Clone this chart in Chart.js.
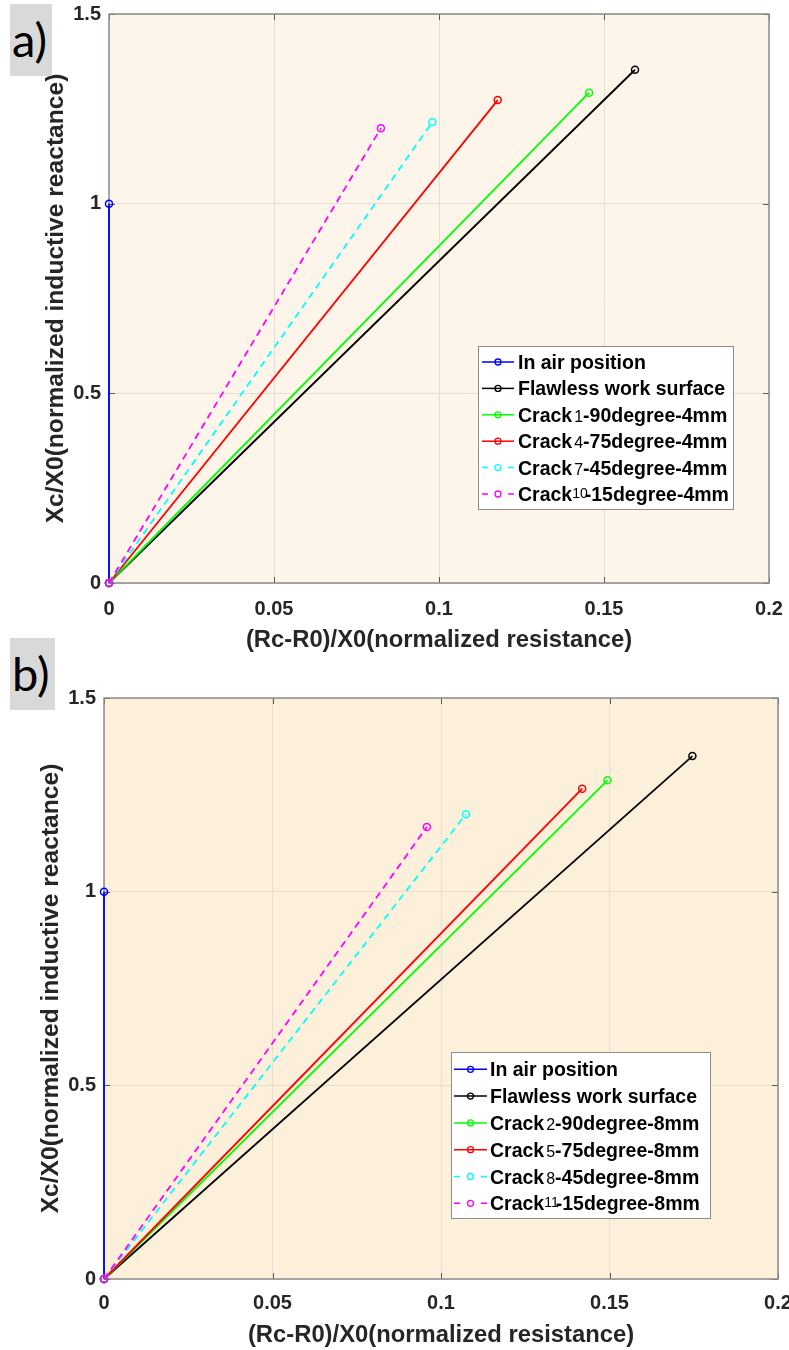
<!DOCTYPE html>
<html>
<head>
<meta charset="utf-8">
<script src="https://cdn.jsdelivr.net/npm/chart.js@4.4.1/dist/chart.umd.min.js"></script>
<style>
  body { margin: 0; width: 789px; height: 1350px; background: #fff; position: relative; overflow: hidden; }
  .panel { position: absolute; left: 0; }
  .tag { position: absolute; background: #d9d9d9; font-family: Lato, "Open Sans", sans-serif; color: #000; }
  .tag span { position: absolute; left: 2px; font-size: 47px; line-height: 1; }
</style>
</head>
<body>
<div class="panel" style="top:0"><canvas id="chartA" width="789" height="655"></canvas></div>
<div class="panel" style="top:660px"><canvas id="chartB" width="789" height="690"></canvas></div>
<div class="tag" style="left:10px;top:4px;width:42px;height:72px"><span style="top:12px">a)</span></div>
<div class="tag" style="left:10px;top:638px;width:45px;height:72px"><span style="top:12px">b)</span></div>
<script>
// axis ticks
const xTicks = [0, 0.05, 0.1, 0.15, 0.2];
const xTickLabels = ['0', '0.05', '0.1', '0.15', '0.2'];
const yTicks = [0, 0.5, 1, 1.5];
const yTickLabels = ['0', '0.5', '1', '1.5'];

const xTitle = '(Rc-R0)/X0(normalized resistance)';
const yTitle = 'Xc/X0(normalized inductive reactance)';

// series names
const labelsA = ['In air position', 'Flawless work surface', 'Crack1-90degree-4mm',
  'Crack4-75degree-4mm', 'Crack7-45degree-4mm', 'Crack10-15degree-4mm'];
const labelsB = ['In air position', 'Flawless work surface', 'Crack2-90degree-8mm',
  'Crack5-75degree-8mm', 'Crack8-45degree-8mm', 'Crack11-15degree-8mm'];

// normalized resistance (x) and reactance (y), start and end point of each series
const resA = [[0, 0], [0, 0.1594], [0, 0.1455], [0, 0.1178], [0, 0.0980], [0, 0.0824]];
const reaA = [[0, 1], [0, 1.353], [0, 1.2925], [0, 1.273], [0, 1.2154], [0, 1.199]];
const resB = [[0, 0], [0, 0.1746], [0, 0.1494], [0, 0.1419], [0, 0.1074], [0, 0.0958]];
const reaB = [[0, 1], [0, 1.350], [0, 1.2875], [0, 1.266], [0, 1.1998], [0, 1.167]];

const colors = ['#0000ff', '#000000', '#00ff00', '#ff0000', '#00ffff', '#ff00ff'];
const dashed = [false, false, false, false, true, true];

const FONT = '"Liberation Sans", Arial, sans-serif';
const TEXT = '#262626';

function makeDatasets(labels, xs, ys) {
  return labels.map((name, i) => ({
    label: name,
    data: xs[i].map((x, k) => ({ x: x, y: ys[i][k] })),
    showLine: true,
    borderColor: colors[i],
    borderWidth: 1.8,
    borderDash: dashed[i] ? [7, 5] : [],
    pointStyle: 'circle',
    pointRadius: 3.5,
    pointBorderWidth: 1.5,
    pointBorderColor: colors[i],
    pointBackgroundColor: 'rgba(0,0,0,0)',
    pointHoverRadius: 3.5,
    clip: false,
    order: labels.length - i
  }));
}

// legend label with the crack number set smaller
function drawLabel(ctx, text, x, y) {
  const base = y + 7;
  ctx.textBaseline = 'alphabetic';
  ctx.textAlign = 'left';
  ctx.fillStyle = '#000';
  ctx.font = 'bold 19.5px ' + FONT;
  const m = /^(Crack)(\d+)(.*)$/.exec(text);
  if (!m) { ctx.fillText(text, x, base); return; }
  ctx.fillText(m[1], x, base);
  let cx = x + ctx.measureText(m[1]).width;
  const two = m[2].length > 1;
  ctx.font = (two ? 14 : 16) + 'px ' + FONT;
  cx += two ? 0 : 2;
  ctx.fillText(m[2], cx, base - (two ? 3 : 0));
  cx += ctx.measureText(m[2]).width - (two ? 3 : 0);
  ctx.font = 'bold 19.5px ' + FONT;
  ctx.fillText(m[3], cx, base);
}

// no automatic label overhang, the plot box is fixed
function fixBox(s) {
  s.paddingLeft = 0; s.paddingRight = 0; s.paddingTop = 0; s.paddingBottom = 0;
}

const framePlugin = {
  id: 'frame',
  beforeDraw(chart, args, opts) {
    const a = chart.chartArea, ctx = chart.ctx;
    ctx.save();
    ctx.fillStyle = opts.bg;
    ctx.fillRect(a.left, a.top, a.right - a.left, a.bottom - a.top);
    ctx.restore();
  },
  beforeDatasetsDraw(chart) {
    const a = chart.chartArea, ctx = chart.ctx;
    const sx = chart.scales.x, sy = chart.scales.y;
    ctx.save();
    ctx.strokeStyle = '#595959';
    ctx.lineWidth = 1;
    ctx.beginPath();
    xTicks.forEach(v => {
      const px = Math.round(sx.getPixelForValue(v)) + 0.5;
      ctx.moveTo(px, a.bottom); ctx.lineTo(px, a.bottom - 6);
      ctx.moveTo(px, a.top); ctx.lineTo(px, a.top + 6);
    });
    yTicks.forEach(v => {
      const py = Math.round(sy.getPixelForValue(v)) + 0.5;
      ctx.moveTo(a.left, py); ctx.lineTo(a.left + 6, py);
      ctx.moveTo(a.right, py); ctx.lineTo(a.right - 6, py);
    });
    ctx.stroke();
    ctx.strokeStyle = '#8c8c8c';
    ctx.lineWidth = 1.5;
    ctx.strokeRect(a.left, a.top, a.right - a.left, a.bottom - a.top);
    ctx.restore();
  },
  afterDraw(chart, args, opts) {
    const lg = opts.legend, ctx = chart.ctx;
    const off = opts.canvasTop;
    ctx.save();
    ctx.fillStyle = '#fff';
    ctx.fillRect(lg.x, lg.y - off, lg.w, lg.h);
    ctx.strokeStyle = '#8c8c8c';
    ctx.lineWidth = 1;
    ctx.strokeRect(lg.x + 0.5, lg.y - off + 0.5, lg.w, lg.h);
    chart.data.datasets.forEach((ds, i) => {
      const y = lg.row0 + i * lg.step - off;
      const mid = (lg.line0 + lg.line1) / 2;
      ctx.strokeStyle = ds.borderColor;
      ctx.lineWidth = 1.5;
      ctx.beginPath();
      if (dashed[i]) {
        ctx.moveTo(lg.line0, y); ctx.lineTo(lg.line0 + 6, y);
        ctx.moveTo(lg.line1 - 6, y); ctx.lineTo(lg.line1, y);
      } else {
        ctx.moveTo(lg.line0, y); ctx.lineTo(lg.line1, y);
      }
      ctx.stroke();
      ctx.lineWidth = 1.3;
      ctx.beginPath();
      ctx.arc(mid, y, 3, 0, Math.PI * 2);
      ctx.stroke();
      drawLabel(ctx, ds.label, lg.text, y);
    });
    ctx.restore();
  }
};

function makeChart(id, p, labels, xs, ys) {
  const tickFont = { family: FONT, size: 20, weight: 'bold' };
  return new Chart(document.getElementById(id), {
    type: 'scatter',
    data: { datasets: makeDatasets(labels, xs, ys) },
    plugins: [framePlugin],
    options: {
      responsive: false,
      animation: false,
      events: [],
      layout: { autoPadding: false, padding: { top: p.padTop, right: p.padRight, bottom: 0, left: p.padLeft } },
      plugins: {
        legend: { display: false },
        tooltip: { enabled: false },
        frame: { bg: p.bg, legend: p.legend, canvasTop: p.canvasTop }
      },
      scales: {
        x: {
          type: 'linear', min: 0, max: 0.2,
          afterBuildTicks: s => { s.ticks = xTicks.map(v => ({ value: v })); },
          afterFit: s => { s.height = p.xAxisH; fixBox(s); },
          ticks: {
            autoSkip: false, maxRotation: 0, padding: p.xTickPad, color: TEXT, font: tickFont,
            callback: v => xTickLabels[xTicks.indexOf(v)]
          },
          grid: { color: '#e6ded3', lineWidth: 1, drawTicks: false },
          border: { display: false },
          title: { display: true, text: xTitle, color: TEXT, font: { family: FONT, size: 23.8, weight: 'bold' }, padding: 0 }
        },
        y: {
          type: 'linear', min: 0, max: 1.5,
          afterBuildTicks: s => { s.ticks = yTicks.map(v => ({ value: v })); },
          afterFit: s => { s.width = p.yAxisW; fixBox(s); },
          ticks: {
            autoSkip: false, padding: 8, color: TEXT, font: tickFont,
            callback: v => yTickLabels[yTicks.indexOf(v)]
          },
          grid: { color: '#e6ded3', lineWidth: 1, drawTicks: false },
          border: { display: false },
          title: { display: true, text: yTitle, color: TEXT, font: { family: FONT, size: 24.6, weight: 'bold' }, padding: 0 }
        }
      }
    }
  });
}

makeChart('chartA', {
  canvasTop: 0, padTop: 14, padRight: 20, padLeft: 41, yAxisW: 68, xAxisH: 72, xTickPad: 14,
  bg: '#fef5ea',
  legend: { x: 478, y: 346, w: 255, h: 163, row0: 362, step: 26.4, line0: 482, line1: 514, text: 518 }
}, labelsA, resA, reaA);

makeChart('chartB', {
  canvasTop: 660, padTop: 38, padRight: 11, padLeft: 36, yAxisW: 68, xAxisH: 71, xTickPad: 12,
  bg: '#fdf0db',
  legend: { x: 451, y: 1052, w: 259, h: 166, row0: 1069.3, step: 26.8, line0: 454, line1: 487, text: 490 }
}, labelsB, resB, reaB);
</script>
</body>
</html>
